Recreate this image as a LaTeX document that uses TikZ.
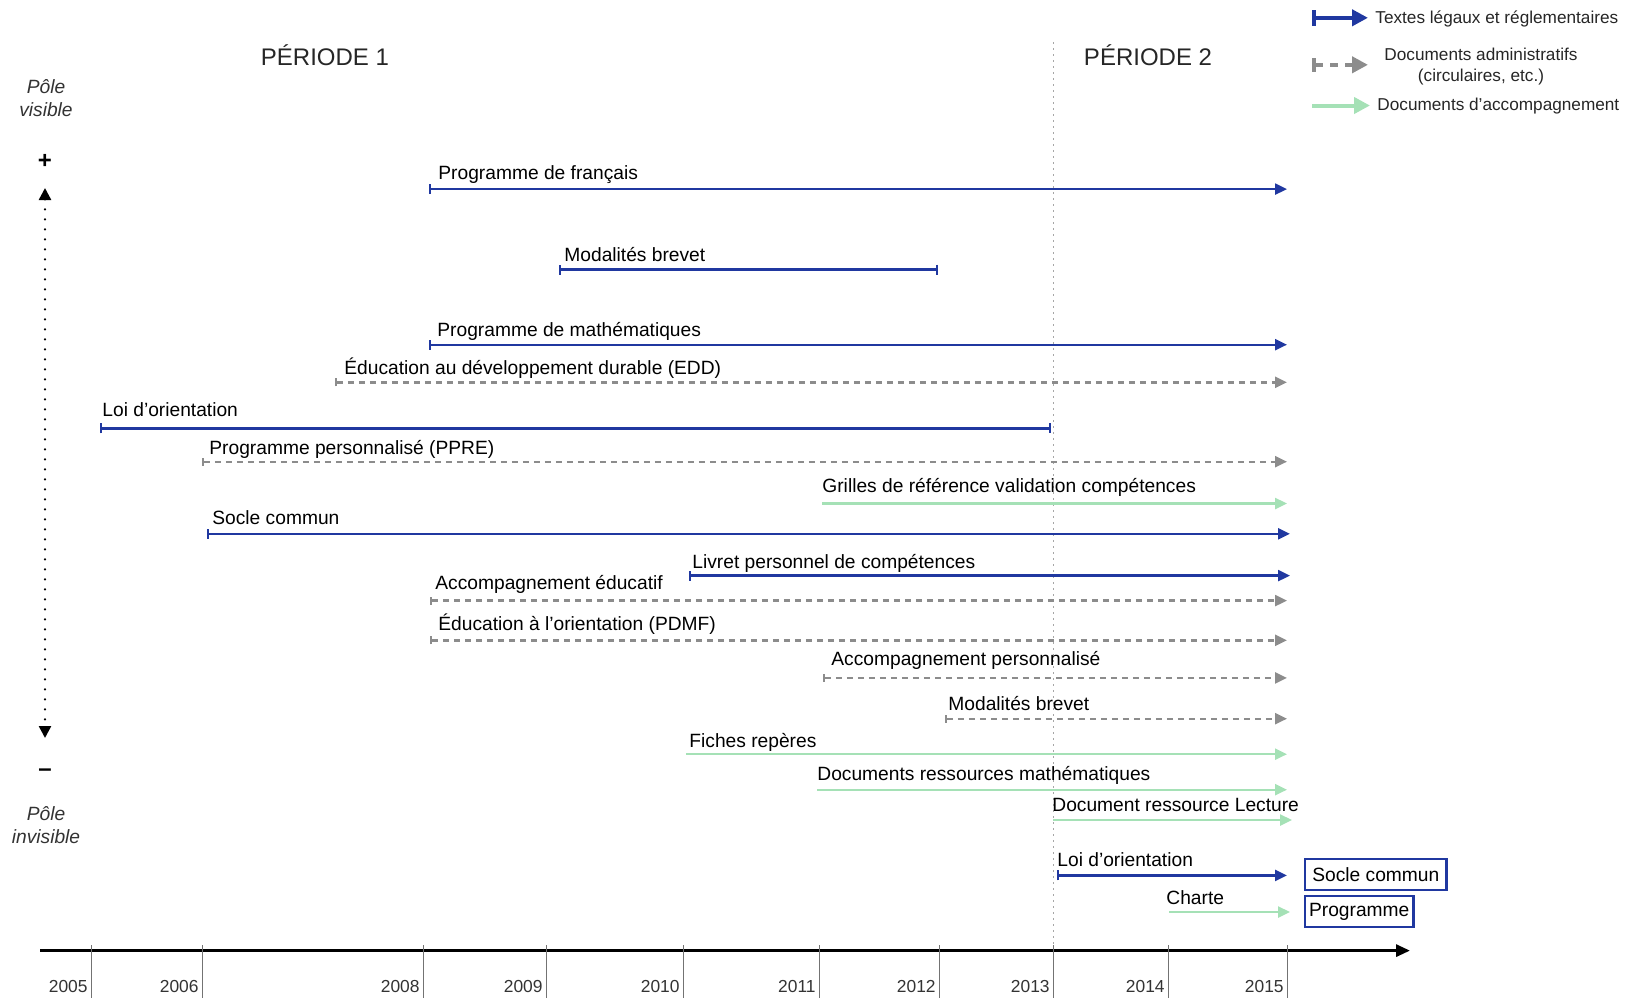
\documentclass[tikz,border=0pt]{standalone}
\usepackage{fontspec}
\setmainfont{Liberation Sans}
\usetikzlibrary{arrows.meta}

\definecolor{legalblue}{RGB}{32,56,160}
\definecolor{admingray}{RGB}{140,140,140}
\definecolor{accgreen}{RGB}{165,225,182}

\begin{document}
\begin{tikzpicture}[x=0.5pt,y=-0.5pt,
    legal/.style={draw=legalblue,line width=1.2pt,{Bar[width=5pt]}-{Triangle[length=6pt,width=5.5pt]}},
    legalbar/.style={draw=legalblue,line width=1.2pt,{Bar[width=5pt]}-{Bar[width=5pt]}},
    admin/.style={draw=admingray,line width=1.2pt,dash pattern=on 3pt off 2.5pt,{Bar[width=4pt]}-{Triangle[length=6pt,width=5.5pt]}},
    accomp/.style={draw=accgreen,line width=1.2pt,-{Triangle[length=6pt,width=5.5pt]}},
    legarrow/.style={line width=2pt,-{Triangle[length=8pt,width=8pt]}},
    lbl/.style={anchor=base west,inner sep=0pt,font=\fontsize{9.6}{11}\selectfont},
    periode/.style={font=\fontsize{12}{14}\selectfont,text=black!85},
    pole/.style={align=center,font=\fontsize{9.6}{11.5}\itshape,text=black!80},
    year/.style={anchor=base east,inner sep=0pt,font=\fontsize{8.7}{10}\selectfont,text=black!80},
    tick/.style={draw=black!55,line width=0.5pt},
    legtxt/.style={inner sep=0pt,font=\fontsize{8.6}{10.5}\selectfont,text=black!85},
    endbox/.style={draw=legalblue,line width=1.1pt,anchor=west,inner ysep=0pt,minimum height=15.5pt,font=\fontsize{9.6}{11}\selectfont}
  ]
  \useasboundingbox (0,0) rectangle (1638,998);

  % legende
  \coordinate (lga) at (1312,17.8);  \coordinate (lgb) at (1368,17.8);
  \draw[legal,legarrow,{Bar[width=8pt]}-{Triangle[length=8pt,width=8pt]}] (lga) -- (lgb);
  \node[legtxt,anchor=west] (lgt) at (1375,18.8) {Textes légaux et réglementaires};
  \coordinate (lda) at (1312,64.8);  \coordinate (ldb) at (1368,64.8);
  \draw[admin,legarrow,dash pattern=on 4pt off 3.5pt,{Bar[width=7pt]}-{Triangle[length=8pt,width=8pt]}] (lda) -- (ldb);
  \node[legtxt,align=center] (ldt) at (1481,67) {Documents administratifs\\(circulaires, etc.)};
  \coordinate (lca) at (1312,105.5); \coordinate (lcb) at (1370,105.5);
  \draw[accomp,legarrow] (lca) -- (lcb);
  \node[legtxt,anchor=west] (lct) at (1377,106.5) {Documents d’accompagnement};

  % periodes
  \node[periode] (p1) at (325,55) {PÉRIODE 1};
  \node[periode] (p2) at (1148,55) {PÉRIODE 2};
  \coordinate (sep1) at (1053,42); \coordinate (sep2) at (1053,950);
  \draw[black!35,line width=0.5pt,dash pattern=on 1pt off 2pt] (sep1) -- (sep2);

  % axe vertical
  \node[pole] (vis) at (46,98) {Pôle\\visible};
  \node[font=\fontsize{12}{14}\bfseries] (plus) at (45,161) {+};
  \coordinate (va) at (45,188); \coordinate (vb) at (45,738);
  \draw[line width=1.2pt,line cap=round,dash pattern=on 0pt off 5pt,
        {Triangle[length=6pt,width=6pt]}-{Triangle[length=6pt,width=6pt]}] (va) -- (vb);
  \node[font=\fontsize{12}{14}\bfseries] (moins) at (45,773) {--};
  \node[pole] (invis) at (46,825) {Pôle\\invisible};

  % barres
  \coordinate (fra) at (429,189.1);  \coordinate (frb) at (1287,189.1);
  \draw[legal] (fra) -- (frb);
  \node[lbl] (frt) at (438,179.7) {Programme de français};

  \coordinate (mba) at (559,269.5);  \coordinate (mbb) at (938,269.5);
  \draw[legalbar] (mba) -- (mbb);
  \node[lbl] (mbt) at (564,261.2) {Modalités brevet};

  \coordinate (maa) at (429,344.7);  \coordinate (mab) at (1287,344.7);
  \draw[legal] (maa) -- (mab);
  \node[lbl] (mat) at (437,336.4) {Programme de mathématiques};

  \coordinate (edda) at (335,382.3); \coordinate (eddb) at (1287,382.3);
  \draw[admin] (edda) -- (eddb);
  \node[lbl] (eddt) at (344,374) {Éducation au développement durable (EDD)};

  \coordinate (loia) at (100,428.3); \coordinate (loib) at (1051,428.3);
  \draw[legalbar] (loia) -- (loib);
  \node[lbl] (loit) at (102,416.8) {Loi d’orientation};

  \coordinate (ppa) at (202,461.7);  \coordinate (ppb) at (1287,461.7);
  \draw[admin] (ppa) -- (ppb);
  \node[lbl] (ppt) at (209,454.4) {Programme personnalisé (PPRE)};

  \coordinate (gra) at (822,503.5);  \coordinate (grb) at (1287,503.5);
  \draw[accomp] (gra) -- (grb);
  \node[lbl] (grt) at (822,492) {Grilles de référence validation compétences};

  \coordinate (sca) at (207,533.8);  \coordinate (scb) at (1290,533.8);
  \draw[legal] (sca) -- (scb);
  \node[lbl] (sct) at (212,524.4) {Socle commun};

  \coordinate (lpa) at (689,575.6);  \coordinate (lpb) at (1290,575.6);
  \draw[legal] (lpa) -- (lpb);
  \node[lbl] (lpt) at (692,568.3) {Livret personnel de compétences};

  \coordinate (aea) at (430,600.6);  \coordinate (aeb) at (1287,600.6);
  \draw[admin] (aea) -- (aeb);
  \node[lbl] (aet) at (435,589.2) {Accompagnement éducatif};

  \coordinate (pda) at (430,640.3);  \coordinate (pdb) at (1287,640.3);
  \draw[admin] (pda) -- (pdb);
  \node[lbl] (pdt) at (438,630.9) {Éducation à l’orientation (PDMF)};

  \coordinate (apa) at (823,677.9);  \coordinate (apb) at (1287,677.9);
  \draw[admin] (apa) -- (apb);
  \node[lbl] (apt) at (831,665.4) {Accompagnement personnalisé};

  \coordinate (mca) at (945,718.7);  \coordinate (mcb) at (1287,718.7);
  \draw[admin] (mca) -- (mcb);
  \node[lbl] (mct) at (948,710.3) {Modalités brevet};

  \coordinate (fia) at (686,754.2);  \coordinate (fib) at (1287,754.2);
  \draw[accomp] (fia) -- (fib);
  \node[lbl] (fit) at (689,747.9) {Fiches repères};

  \coordinate (dma) at (817,789.7);  \coordinate (dmb) at (1287,789.7);
  \draw[accomp] (dma) -- (dmb);
  \node[lbl] (dmt) at (817,780.3) {Documents ressources mathématiques};

  \coordinate (lea) at (1053,820);   \coordinate (leb) at (1292,820);
  \draw[accomp] (lea) -- (leb);
  \node[lbl] (let) at (1052,811.7) {Document ressource Lecture};

  \coordinate (lob) at (1057,875.4); \coordinate (loc) at (1287,875.4);
  \draw[legal] (lob) -- (loc);
  \node[lbl] (lot) at (1057,866) {Loi d’orientation};

  \coordinate (cha) at (1169,912);   \coordinate (chb) at (1290,912);
  \draw[accomp] (cha) -- (chb);
  \node[lbl] (cht) at (1166,904.6) {Charte};

  \node[endbox,inner xsep=3.6pt] (scbox) at (1304,874.3) {Socle commun};
  \node[endbox,inner xsep=2pt] (prbox) at (1304,911.5) {Programme};

  % axe du temps
  \coordinate (ta) at (40,950.6); \coordinate (tb) at (1410,950.6);
  \draw[line width=1.5pt,-{Triangle[length=7pt,width=6pt]}] (ta) -- (tb);
  \draw[tick] (91,945) -- (91,998);     \node[year] (y05) at (88,992) {2005};
  \draw[tick] (202,945) -- (202,998);   \node[year] (y06) at (199,992) {2006};
  \draw[tick] (423,945) -- (423,998);   \node[year] (y08) at (420,992) {2008};
  \draw[tick] (546,945) -- (546,998);   \node[year] (y09) at (543,992) {2009};
  \draw[tick] (683,945) -- (683,998);   \node[year] (y10) at (680,992) {2010};
  \draw[tick] (819,945) -- (819,998);   \node[year] (y11) at (816,992) {2011};
  \draw[tick] (939,945) -- (939,998);   \node[year] (y12) at (936,992) {2012};
  \draw[tick] (1053,945) -- (1053,998); \node[year] (y13) at (1050,992) {2013};
  \draw[tick] (1168,945) -- (1168,998); \node[year] (y14) at (1165,992) {2014};
  \draw[tick] (1287,945) -- (1287,998); \node[year] (y15) at (1284,992) {2015};
\end{tikzpicture}
\end{document}
